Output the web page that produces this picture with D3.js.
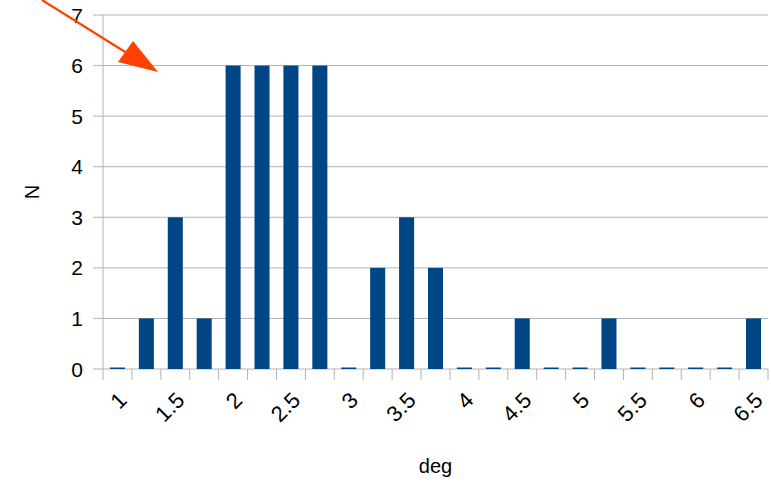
<!DOCTYPE html>
<html>
<head>
<meta charset="utf-8">
<script src="https://cdn.jsdelivr.net/npm/d3@7"></script>
<style>
  body { margin: 0; background: #fff; }
  text { font-family: "Liberation Sans", Arial, sans-serif; fill: #000; }
</style>
</head>
<body>
<div id="chart"></div>
<script>
const width = 771;
const height = 482;

// histogram bins (deg) and counts
const categories = [1, 1.25, 1.5, 1.75, 2, 2.25, 2.5, 2.75, 3, 3.25, 3.5, 3.75,
  4, 4.25, 4.5, 4.75, 5, 5.25, 5.5, 5.75, 6, 6.25, 6.5];
const counts = [0, 1, 3, 1, 6, 6, 6, 6, 0, 2, 3, 2, 0, 0, 1, 0, 0, 1, 0, 0, 0, 0, 1];
const yTicks = [0, 1, 2, 3, 4, 5, 6, 7];

const margin = { top: 15, right: 3, bottom: 113, left: 103 };
const innerW = width - margin.left - margin.right;
const innerH = height - margin.top - margin.bottom;

const svg = d3
  .select('#chart')
  .append('svg')
  .attr('width', width)
  .attr('height', height);

const g = svg.append('g').attr('transform', `translate(${margin.left},${margin.top})`);

const x = d3.scaleBand().domain(d3.range(categories.length)).range([0, innerW]).paddingInner(0.48).paddingOuter(0.24);
const xOuter = d3.scaleBand().domain(d3.range(categories.length)).range([0, innerW]);
const y = d3.scaleLinear().domain([0, 7]).range([innerH, 0]);

// gridlines + y ticks
g.selectAll('.grid')
  .data(yTicks)
  .enter()
  .append('line')
  .attr('x1', -10)
  .attr('x2', innerW)
  .attr('y1', (d) => y(d))
  .attr('y2', (d) => y(d))
  .attr('stroke', '#b3b3b3')
  .attr('stroke-width', 1);

g.selectAll('.ylab')
  .data(yTicks)
  .enter()
  .append('text')
  .attr('x', -20)
  .attr('y', (d) => y(d))
  .attr('dy', '0.36em')
  .attr('text-anchor', 'end')
  .style('font-size', '21px')
  .text((d) => d);

// axis line
g.append('line')
  .attr('x1', 0).attr('x2', 0)
  .attr('y1', 0).attr('y2', innerH)
  .attr('stroke', '#b3b3b3');

// x ticks at category boundaries
const bounds = d3.range(categories.length + 1);
g.selectAll('.xtick')
  .data(bounds)
  .enter()
  .append('line')
  .attr('x1', (d) => d * xOuter.step())
  .attr('x2', (d) => d * xOuter.step())
  .attr('y1', innerH)
  .attr('y2', innerH + 11)
  .attr('stroke', '#b3b3b3');

// bars (zero bars drawn as thin line)
g.selectAll('.bar')
  .data(counts)
  .enter()
  .append('rect')
  .attr('x', (d, i) => x(i))
  .attr('width', x.bandwidth())
  .attr('y', (d) => (d === 0 ? innerH - 1.5 : y(d)))
  .attr('height', (d) => (d === 0 ? 1.5 : innerH - y(d)))
  .attr('fill', '#004586');

// x labels, every other category
g.selectAll('.xlab')
  .data(categories.filter((c, i) => i % 2 === 0))
  .enter()
  .append('text')
  .attr('transform', (d, j) => {
    const cx = xOuter(j * 2) + xOuter.bandwidth() / 2 + 5;
    return `translate(${cx},${innerH + 27}) rotate(-45)`;
  })
  .attr('text-anchor', 'end')
  .attr('dy', '0.36em')
  .style('font-size', '22px')
  .text((d) => d);

// axis titles
svg.append('text')
  .attr('x', margin.left + innerW / 2)
  .attr('y', 473)
  .attr('text-anchor', 'middle')
  .style('font-size', '20px')
  .text('deg');

svg.append('text')
  .attr('transform', `translate(39,${margin.top + innerH / 2}) rotate(-90)`)
  .attr('text-anchor', 'middle')
  .style('font-size', '20px')
  .text('N');

// annotation arrow
const arrowColor = '#ff4000';
svg.append('line')
  .attr('x1', 42).attr('y1', 0)
  .attr('x2', 130).attr('y2', 55)
  .attr('stroke', arrowColor)
  .attr('stroke-width', 2.2);
svg.append('path')
  .attr('d', 'M133,41 L118,62 L158,72 Z')
  .attr('fill', arrowColor);
</script>
</body>
</html>
